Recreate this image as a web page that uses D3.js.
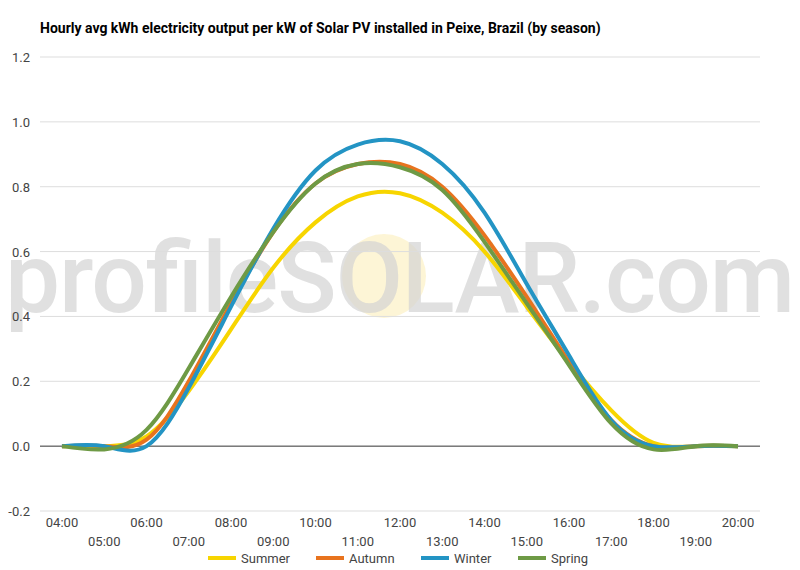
<!DOCTYPE html><html><head><meta charset="utf-8"><script src="https://cdn.jsdelivr.net/npm/d3@7"></script>
<style>body{margin:0;background:#fff}text{font-family:Roboto,sans-serif}</style></head><body><svg id="c" width="800" height="570"></svg>
<script>
const hours=["04:00","05:00","06:00","07:00","08:00","09:00","10:00","11:00","12:00","13:00","14:00","15:00","16:00","17:00","18:00","19:00","20:00"];
const summer=[0,0,0.03,0.17,0.36,0.55,0.69,0.77,0.78,0.72,0.60,0.43,0.26,0.11,0.01,0,0];
const autumn=[0,0,0.02,0.20,0.44,0.66,0.81,0.87,0.87,0.80,0.65,0.46,0.26,0.08,0,0,0];
const winter=[0,0,0,0.18,0.43,0.67,0.85,0.93,0.94,0.87,0.72,0.50,0.28,0.08,0,0,0];
const spring=[0,-0.01,0.05,0.24,0.46,0.66,0.81,0.87,0.86,0.79,0.63,0.44,0.25,0.07,-0.01,0,0];
const yTicks=[-0.2,0,0.2,0.4,0.6,0.8,1.0,1.2];
const series=[{name:"Summer",v:summer,c:"#f7d500"},{name:"Autumn",v:autumn,c:"#e8731e"},{name:"Winter",v:winter,c:"#2394c4"},{name:"Spring",v:spring,c:"#6e9a45"}];
const svg=d3.select("#c");
const x=d3.scalePoint().domain(hours).range([62,738]);
const y=d3.scaleLinear().domain([-0.2,1.2]).range([511,57]);
svg.append("text").attr("x",40).attr("y",33).attr("font-size",14).attr("font-weight","bold").text("Hourly avg kWh electricity output per kW of Solar PV installed in Peixe, Brazil (by season)");
// watermark
svg.append("circle").attr("cx",384).attr("cy",276).attr("r",42).attr("fill","#fdf3cc").attr("opacity",0.8);
svg.append("text").attr("x",400).attr("y",312).attr("text-anchor","middle").attr("font-size",98).attr("font-weight",500).attr("fill","#d4d4d4").attr("opacity",0.7).attr("textLength",790).text("profileSOLAR.com");
yTicks.forEach(t=>{svg.append("line").attr("x1",40).attr("x2",760).attr("y1",y(t)).attr("y2",y(t)).attr("stroke",t===0?"#333":"#ddd");
svg.append("text").attr("x",30).attr("y",y(t)+5).attr("text-anchor","end").attr("font-size",13).attr("fill","#444").text(t.toFixed(1));});
hours.forEach((h,i)=>svg.append("text").attr("x",x(h)).attr("y",i%2?546:527).attr("text-anchor","middle").attr("font-size",13).attr("fill","#444").text(h));
const line=d3.line().x((d,i)=>x(hours[i])).y(d=>y(d)).curve(d3.curveNatural);
series.forEach(s=>svg.append("path").attr("d",line(s.v)).attr("fill","none").attr("stroke",s.c).attr("stroke-width",4));
const lx=[208,316,421,518];
series.forEach((s,i)=>{svg.append("rect").attr("x",lx[i]).attr("y",556).attr("width",28).attr("height",4).attr("fill",s.c);
svg.append("text").attr("x",lx[i]+33).attr("y",563).attr("font-size",13).attr("fill","#444").text(s.name);});
</script></body></html>
